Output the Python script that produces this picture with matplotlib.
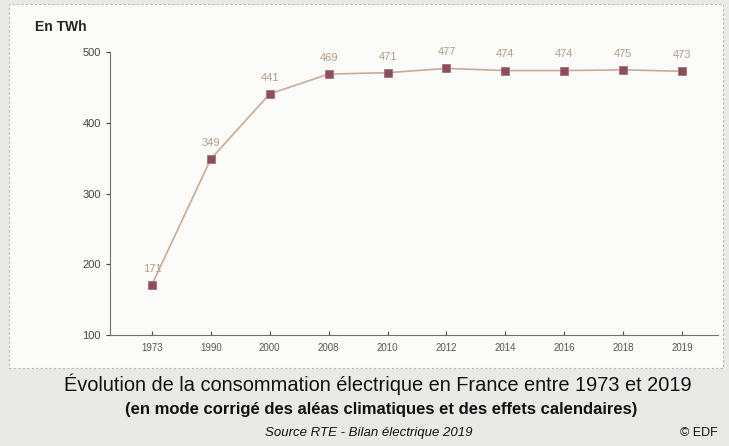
import matplotlib
matplotlib.use("Agg")
import matplotlib.pyplot as plt
from matplotlib.patches import Rectangle

years = ["1973", "1990", "2000", "2008", "2010", "2012", "2014", "2016", "2018", "2019"]
twh = [171, 349, 441, 469, 471, 477, 474, 474, 475, 473]
y_ticks = [100, 200, 300, 400, 500]

plt.rcParams['font.family'] = ['Liberation Sans Narrow', 'Liberation Sans', 'DejaVu Sans']

fig = plt.figure(figsize=(7.29, 4.46), dpi=100)
fig.patch.set_facecolor('#e9e9e7')
# white chart panel with dashed border
fig.patches.append(Rectangle((0.012, 0.175), 0.98, 0.815, transform=fig.transFigure,
                             facecolor='#fbfbf9', edgecolor='#b8b8b8', linestyle=(0, (2, 2)),
                             linewidth=0.8, zorder=-5))

ax = fig.add_axes([0.151, 0.249, 0.834, 0.634])
ax.set_facecolor('none')
ax.set_zorder(2)
x = list(range(len(years)))
ax.plot(x, twh, color='#c9ab94', linewidth=1.2, zorder=2)
ax.plot(x, twh, linestyle='none', marker='s', markersize=5.5, markerfacecolor='#8e4d5c',
        markeredgecolor='#a07080', markeredgewidth=0.6, zorder=3)
for xi, v in zip(x, twh):
    ax.annotate(str(v), (xi, v), xytext=(0, 8), textcoords='offset points', ha='center',
                va='bottom', fontsize=8, color='#b29c84')

ax.set_xlim(-0.71, 9.61)
ax.set_ylim(100, 500)
ax.set_xticks(x)
ax.set_xticklabels(years)
ax.set_yticks(y_ticks)
for s in ['top', 'right']:
    ax.spines[s].set_visible(False)
for s in ['left', 'bottom']:
    ax.spines[s].set_color('#707070')
    ax.spines[s].set_linewidth(0.8)
ax.tick_params(axis='x', direction='in', length=3, labelsize=7, colors='#555555', pad=6)
ax.tick_params(axis='y', direction='out', length=3, labelsize=8, colors='#444444')

fig.text(0.048, 0.94, "En TWh", fontsize=10, color='#222222', fontweight='bold', va='center')
fig.text(0.518, 0.138, "Évolution de la consommation électrique en France entre 1973 et 2019",
         ha='center', va='center', fontsize=14.4, family='Liberation Sans', color='#111111')
fig.text(0.523, 0.082, "(en mode corrigé des aléas climatiques et des effets calendaires)",
         ha='center', va='center', fontsize=12, family='Liberation Sans', fontweight='bold',
         color='#111111')
fig.text(0.506, 0.030, "Source RTE - Bilan électrique 2019", ha='center', va='center',
         fontsize=9.5, family='Liberation Sans', style='italic', color='#111111')
fig.text(0.985, 0.030, "© EDF", ha='right', va='center', fontsize=9,
         family='Liberation Sans', color='#111111')

fig.savefig("out.png", dpi=100, facecolor=fig.get_facecolor())
